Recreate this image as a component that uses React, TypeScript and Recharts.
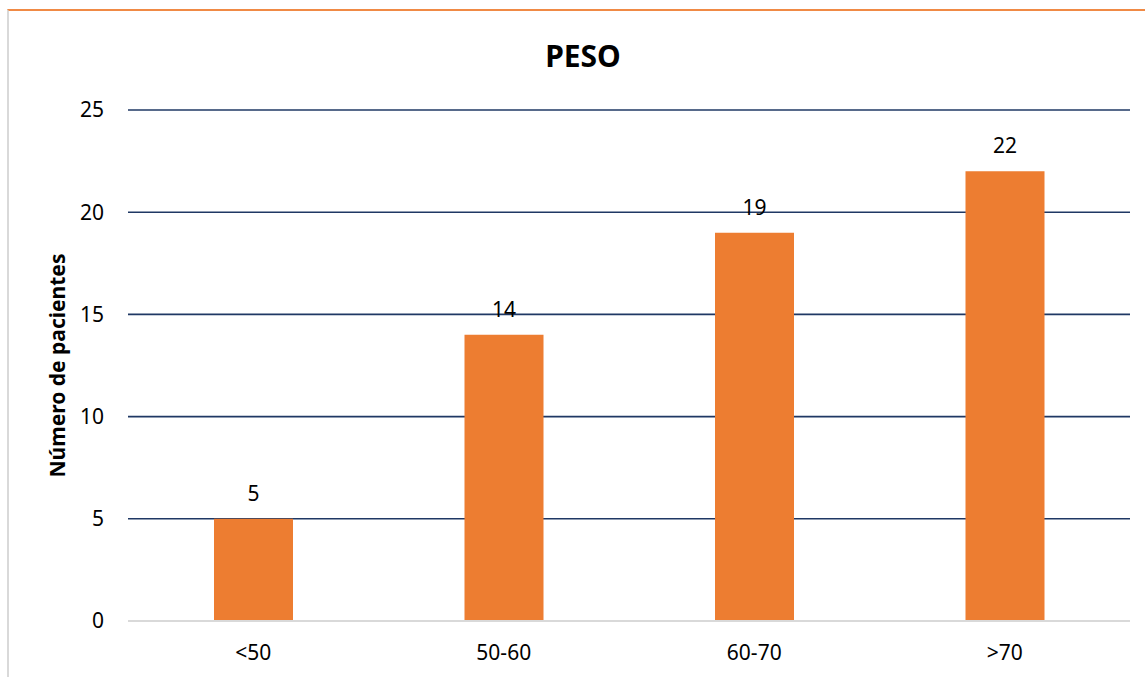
import React from 'react';
import {
  BarChart, Bar, XAxis, YAxis, CartesianGrid, LabelList, Label,
} from 'recharts';

const categories = ['<50', '50-60', '60-70', '>70'];
const pacientes = [5, 14, 19, 22];
const yTicks = [0, 5, 10, 15, 20, 25];

const chartData = categories.map((c, i) => ({ rango: c, pacientes: pacientes[i] }));

const FONT = '"Noto Sans", "Liberation Sans", sans-serif';

export default function App() {
  return (
    <div style={{ position: 'absolute', left: 0, top: 0, width: 1145, height: 677, background: '#fff', fontFamily: FONT }}>
      {/* frame of the original sheet */}
      <div
        style={{
          position: 'absolute', left: 7, top: 9, width: 1138, height: 668,
          borderTop: '2px solid #F08A45', borderLeft: '2px solid #D9D9D9', boxSizing: 'border-box',
        }}
      />
      <svg width={1145} height={100} style={{ position: 'absolute', left: 0, top: 0 }}>
        <text x={583} y={67} textAnchor="middle" fontFamily={FONT} fontWeight="bold" fontSize={30} fill="#000">
          PESO
        </text>
      </svg>
      <div style={{ position: 'absolute', left: 0, top: 0 }}>
        <BarChart
          width={1145}
          height={677}
          data={chartData}
          margin={{ top: 110, right: 15, left: 68, bottom: 0 }}
        >
          <CartesianGrid vertical={false} stroke="#1F3864" strokeWidth={1.6} />
          <XAxis
            dataKey="rango"
            height={56}
            axisLine={{ stroke: '#D9D9D9', strokeWidth: 2 }}
            tickLine={false}
            tickSize={0}
            tickMargin={24}
            tick={{ fill: '#000', fontSize: 21, fontFamily: FONT }}
          />
          <YAxis
            domain={[0, 25]}
            ticks={yTicks}
            width={60}
            axisLine={false}
            tickLine={false}
            tickSize={0}
            tickMargin={24}
            tick={{ fill: '#000', fontSize: 21, fontFamily: FONT }}
          >
            <Label
              content={(props: any) => {
                const vb = props.viewBox || { x: 68, y: 110, width: 60, height: 511 };
                const cx = vb.x - 11;
                const cy = vb.y + vb.height / 2;
                return (
                  <text
                    x={cx}
                    y={cy}
                    transform={`rotate(-90, ${cx}, ${cy})`}
                    textAnchor="middle"
                    dominantBaseline="central"
                    fontFamily={FONT}
                    fontWeight="bold"
                    fontSize={21}
                    fill="#000"
                  >
                    Número de pacientes
                  </text>
                );
              }}
            />
          </YAxis>
          <Bar dataKey="pacientes" fill="#ED7D31" barSize={79} isAnimationActive={false}>
            <LabelList dataKey="pacientes" position="top" offset={18} fill="#000" fontSize={21} fontFamily={FONT} />
          </Bar>
        </BarChart>
      </div>
    </div>
  );
}
